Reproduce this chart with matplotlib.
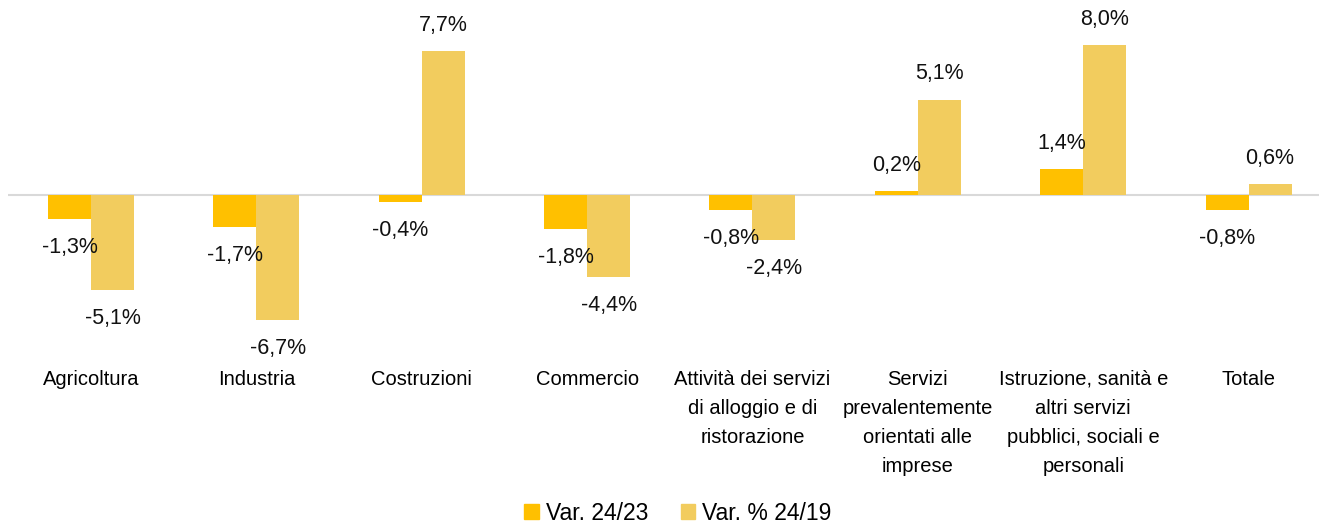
import numpy as np
import matplotlib.pyplot as plt
from matplotlib.patches import Patch

categorie = ['Agricoltura', 'Industria', 'Costruzioni', 'Commercio',
             'Attività dei servizi\ndi alloggio e di\nristorazione',
             'Servizi\nprevalentemente\norientati alle\nimprese',
             'Istruzione, sanità e\naltri servizi\npubblici, sociali e\npersonali',
             'Totale']
var_24_23 = [-1.3, -1.7, -0.4, -1.8, -0.8, 0.2, 1.4, -0.8]
var_24_19 = [-5.1, -6.7, 7.7, -4.4, -2.4, 5.1, 8.0, 0.6]

plt.rcParams['font.family'] = ['Liberation Sans Narrow', 'Liberation Sans', 'DejaVu Sans']

col_scuro = '#FFC000'
col_chiaro = '#F2CC5E'

W, H = 1319, 524
fig = plt.figure(figsize=(W / 100, H / 100), dpi=100)
# asse: da x=8 px, 165.4 px per categoria; y da 0 a 340 px
ax = fig.add_axes([8.3 / W, (H - 340) / H, 1323 / W, 340 / H])

x = np.arange(len(categorie))
w = 0.26
b1 = ax.bar(x - w / 2, var_24_23, w, color=col_scuro)
b2 = ax.bar(x + w / 2, var_24_19, w, color=col_chiaro)

px_per = 18.7
ax.set_xlim(-0.5, len(categorie) - 0.5)
ax.set_ylim(-145 / px_per, 195 / px_per)
ax.axhline(0, color='#D9D9D9', lw=1.5, zorder=0)

for barre, valori in ((b1, var_24_23), (b2, var_24_19)):
    for r, v in zip(barre, valori):
        off = 18.5 if v >= 0 else -20.5
        ax.annotate(f'{v:.1f}%'.replace('.', ','),
                    (r.get_x() + r.get_width() / 2, v),
                    xytext=(0, off), textcoords='offset points',
                    ha='center', va='center', fontsize=15.5, color='#111111')

ax.set_xticks(x)
ax.set_xticklabels(categorie, fontsize=14.5, linespacing=1.66)
ax.tick_params(axis='x', length=0, pad=21.5)
ax.set_yticks([])
for s in ax.spines.values():
    s.set_visible(False)

maniglie = [Patch(color=col_scuro), Patch(color=col_chiaro)]
fig.legend(maniglie, ['Var. 24/23', 'Var. % 24/19'], loc='center',
           bbox_to_anchor=(678 / W, 11 / H), ncol=2, frameon=False,
           fontsize=16.5, handlelength=0.65, handleheight=0.65,
           handletextpad=0.3, columnspacing=1.4)

fig.savefig('out.png', dpi=100)
